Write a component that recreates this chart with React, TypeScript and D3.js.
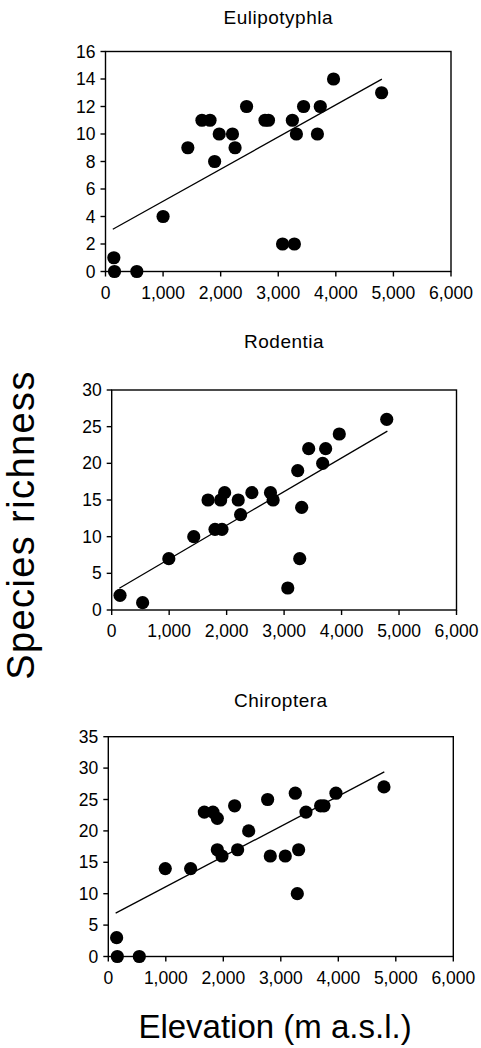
import React from "react";
import * as d3 from "d3";

// ---- Data ----
const panelTitles = ["Eulipotyphla", "Rodentia", "Chiroptera"];

const euliElev = [145, 156, 544, 1000, 1430, 1675, 1815, 1895, 1975, 2205, 2250, 2450, 2770, 2830, 3075, 3280, 3245, 3315, 3440, 3680, 3730, 3960, 4795];
const euliRich = [1, 0, 0, 4, 9, 11, 11, 8, 10, 10, 9, 12, 11, 11, 2, 2, 11, 10, 12, 10, 12, 14, 13];

const rodeElev = [145, 538, 994, 1428, 1676, 1798, 1896, 1919, 1965, 2202, 2243, 2439, 2763, 2809, 3064, 3237, 3272, 3306, 3428, 3671, 3723, 3960, 4786];
const rodeRich = [2, 1, 7, 10, 15, 11, 15, 11, 16, 15, 13, 16, 16, 15, 3, 19, 7, 14, 22, 20, 22, 24, 26];

const chirElev = [145, 157, 539, 991, 1432, 1670, 1820, 1896, 1896, 1977, 2197, 2249, 2441, 2771, 2817, 3078, 3252, 3287, 3310, 3438, 3693, 3751, 3959, 4794];
const chirRich = [3, 0, 0, 14, 14, 23, 23, 22, 17, 16, 24, 17, 20, 25, 16, 16, 26, 10, 17, 23, 24, 24, 26, 27];

// regression line endpoints [x0, y0, x1, y1]
const euliTrend = [127, 3.07, 4800, 13.99];
const rodeTrend = [133, 2.97, 4797, 24.4];
const chirTrend = [128, 6.9, 4800, 29.4];

const xTicks = [0, 1000, 2000, 3000, 4000, 5000, 6000];
const euliYTicks = [0, 2, 4, 6, 8, 10, 12, 14, 16];
const rodeYTicks = [0, 5, 10, 15, 20, 25, 30];
const chirYTicks = [0, 5, 10, 15, 20, 25, 30, 35];

const yLabel = "Species richness";
const xLabel = "Elevation (m a.s.l.)";

// ---- Layout ----
const FONT = "'Liberation Sans', Arial, Helvetica, sans-serif";
const layouts = [
  { left: 105.5, top: 51.5, right: 451, bottom: 271.5, titleY: 24 },
  { left: 111.7, top: 390, right: 456.5, bottom: 610, titleY: 347.5 },
  { left: 108.3, top: 736.7, right: 453.3, bottom: 956.5, titleY: 706.5 },
];

const panels = [
  { title: panelTitles[0], xs: euliElev, ys: euliRich, trend: euliTrend, yTicks: euliYTicks },
  { title: panelTitles[1], xs: rodeElev, ys: rodeRich, trend: rodeTrend, yTicks: rodeYTicks },
  { title: panelTitles[2], xs: chirElev, ys: chirRich, trend: chirTrend, yTicks: chirYTicks },
];

const fmt = d3.format(",");

function Panel({ p, l }: any) {
  const x = d3.scaleLinear().domain([0, 6000]).range([l.left, l.right]);
  const yMax = p.yTicks[p.yTicks.length - 1];
  const y = d3.scaleLinear().domain([0, yMax]).range([l.bottom, l.top]);
  const line = d3.line<[number, number]>().x((d) => x(d[0])).y((d) => y(d[1]));
  const t = p.trend;
  return (
    <g>
      <text x={(l.left + l.right) / 2} y={l.titleY} textAnchor="middle" fontSize={19} letterSpacing={0.5} fontFamily={FONT} fill="#000">
        {p.title}
      </text>
      {/* regression */}
      <path d={line([[t[0], t[1]], [t[2], t[3]]]) || ""} stroke="#000" strokeWidth={1.3} fill="none" />
      {/* points */}
      {p.xs.map((v: number, i: number) => (
        <circle key={i} cx={x(v)} cy={y(p.ys[i])} r={6.6} fill="#000" />
      ))}
      {/* frame */}
      <rect x={l.left} y={l.top} width={l.right - l.left} height={l.bottom - l.top} fill="none" stroke="#000" strokeWidth={1.4} />
      {/* y ticks */}
      {p.yTicks.map((v: number) => (
        <g key={"y" + v}>
          <line x1={l.left - 5} x2={l.left} y1={y(v)} y2={y(v)} stroke="#000" strokeWidth={1.4} />
          <text x={l.left - 10} y={y(v)} dy="0.35em" textAnchor="end" fontSize={17.5} fontFamily={FONT} fill="#000">
            {v}
          </text>
        </g>
      ))}
      {/* x ticks */}
      {xTicks.map((v) => (
        <g key={"x" + v}>
          <line x1={x(v)} x2={x(v)} y1={l.bottom} y2={l.bottom + 5} stroke="#000" strokeWidth={1.4} />
          <text x={x(v)} y={l.bottom + 27} textAnchor="middle" fontSize={17.5} fontFamily={FONT} fill="#000">
            {fmt(v)}
          </text>
        </g>
      ))}
    </g>
  );
}

export default function App() {
  return (
    <svg width={481} height={1048} style={{ position: "absolute", left: 0, top: 0, background: "#fff" }}>
      <rect x={0} y={0} width={481} height={1048} fill="#fff" />
      {panels.map((p, i) => (
        <Panel key={i} p={p} l={layouts[i]} />
      ))}
      <text transform="translate(34,525) rotate(-90)" textAnchor="middle" fontSize={38} letterSpacing={1.4} fontFamily={FONT} fill="#000">
        {yLabel}
      </text>
      <text x={275} y={1038} textAnchor="middle" fontSize={33} fontFamily={FONT} fill="#000">
        {xLabel}
      </text>
    </svg>
  );
}
